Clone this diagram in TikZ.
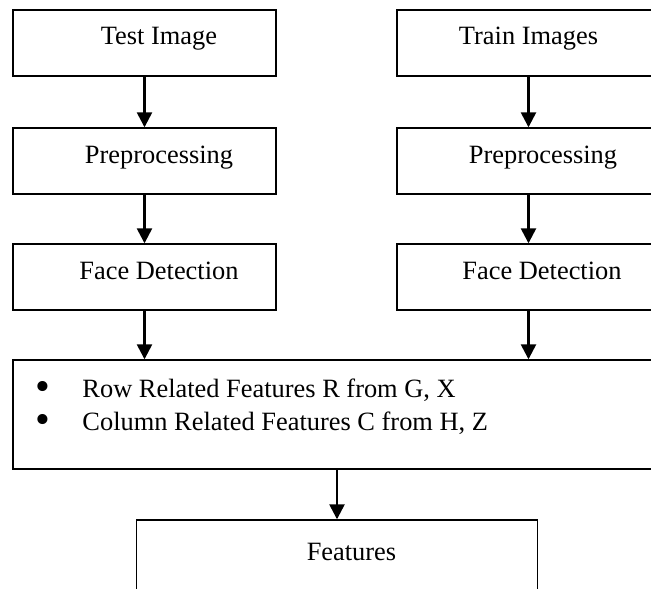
\documentclass[tikz,border=0pt]{standalone}
\usepackage{fontspec}
\usepackage{graphicx}
\setmainfont{Liberation Serif}
\usetikzlibrary{arrows.meta}

\newcommand{\bigbullet}{\raisebox{-3pt}{\scalebox{1.6}{\textbullet}}\hspace{32.5pt}}

\begin{document}
\begin{tikzpicture}[x=1pt,y=-1pt,
  box/.style={draw,line width=1.4pt,minimum width=263pt,minimum height=66pt,inner sep=0pt,
    text height=14pt,text depth=10pt,font=\fontsize{26.4}{33}\selectfont},
  arr/.style={line width=2.5pt,-{Triangle[length=15pt,width=15pt]}}]
\useasboundingbox (0,0) rectangle (651,589);
\clip (0,0) rectangle (651,589);
% test side
\node[box] (test)  at (144.5,43)  {\hspace{29pt}Test Image};
\node[box] (prepA) at (144.5,161) {\hspace{29pt}Preprocessing};
\node[box] (faceA) at (144.5,277) {\hspace{29pt}Face Detection};
% train side
\node[box] (train) at (528.5,43)  {Train Images\hspace{17pt}};
\node[box] (prepB) at (528.5,161) {\hspace{29pt}Preprocessing};
\node[box] (faceB) at (528.5,277) {\hspace{27pt}Face Detection};
% row / column features
\node[box,minimum width=648pt,minimum height=109pt] (rowcol) at (337,414.5) {};
\node[anchor=north west,align=left,inner sep=0pt,font=\fontsize{26.4}{33}\selectfont] (items) at (35,379)
  {\bigbullet Row Related Features R from G, X\\
   \bigbullet Column Related Features C from H, Z};
\node[box,minimum width=401pt,minimum height=76pt] (feat) at (337,558) {\hspace{29pt}Features};
\draw[arr] (test) -- (prepA);
\draw[arr] (prepA) -- (faceA);
\draw[arr] (train) -- (prepB);
\draw[arr] (prepB) -- (faceB);
\draw[arr] (faceA.south) -- (faceA.south |- rowcol.north);
\draw[arr] (faceB.south) -- (faceB.south |- rowcol.north);
\draw[arr] (rowcol) -- (feat);
\end{tikzpicture}
\end{document}
